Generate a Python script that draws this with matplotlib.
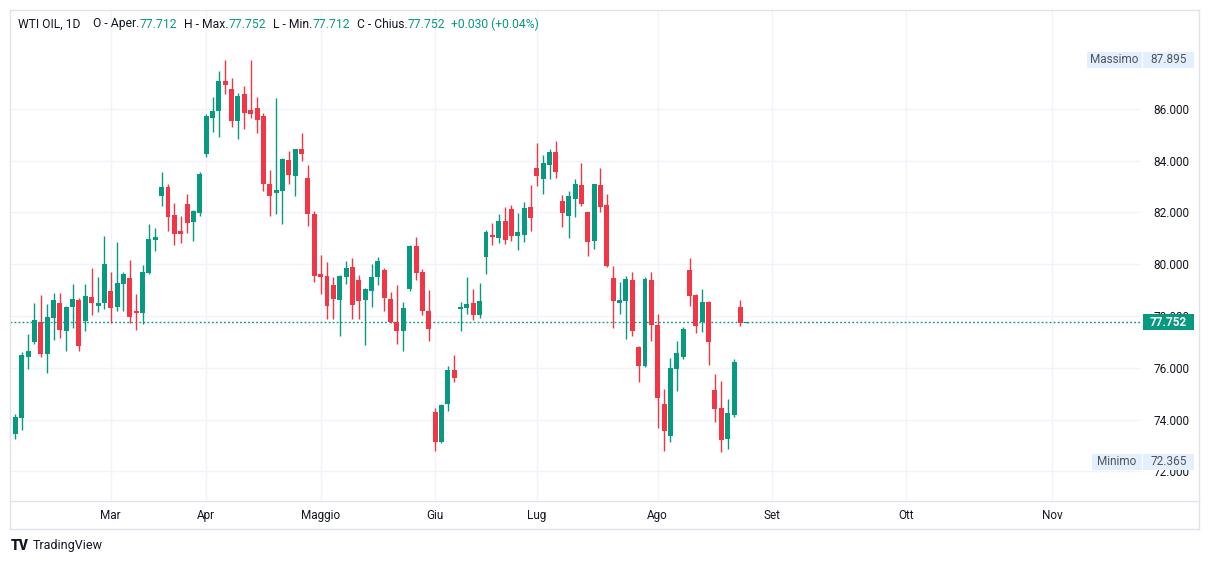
import numpy as np
import matplotlib
matplotlib.use("Agg")
import matplotlib.pyplot as plt
from matplotlib.lines import Line2D
from matplotlib.patches import Rectangle
import matplotlib.transforms as mtransforms

plt.rcParams['font.family'] = ['Roboto', 'DejaVu Sans']

# daily bars (bar index 0 = first visible bar)
opens = [72.76, 73.45, 74.07, 76.41, 76.99, 77.78, 76.53, 77.93, 78.50, 77.42,
         78.34, 78.61, 77.80, 78.73, 78.38, 78.50, 78.96, 78.34, 79.23, 79.46,
         78.19, 78.11, 79.66, 80.93, 82.64, 82.98, 81.90, 81.28, 82.32, 81.64,
         81.98, 84.26, 85.64, 85.91, 87.07, 86.76, 85.53, 86.57, 85.95, 86.03,
         85.72, 83.09, 82.75, 82.82, 84.02, 83.40, 84.44, 83.32, 81.93, 79.62,
         79.54, 79.19, 78.61, 79.50, 79.89, 79.39, 78.61, 78.96, 79.50, 79.77,
         78.65, 77.76, 77.42, 79.04, 80.70, 79.69, 78.19, 74.29, 73.13, 74.60,
         75.91, 78.26, 78.30, 78.50, 78.03, 80.27, 81.12, 81.00, 81.66, 82.13,
         81.08, 81.12, 82.20, 83.71, 83.29, 83.83, 84.33, 82.44, 81.86, 82.51,
         83.05, 82.01, 80.89, 83.05, 82.28, 79.46, 78.50, 78.57, 79.39, 76.80,
         76.07, 79.39, 77.65, 74.60, 73.36, 75.95, 76.41, 79.77, 78.81, 77.76,
         78.53, 75.14, 74.44, 73.25, 74.17, 78.34, 77.712]
highs = [73.50, 74.21, 76.61, 77.30, 78.50, 78.81, 78.46, 78.88, 78.88, 78.38,
         79.23, 78.69, 79.23, 79.85, 79.50, 81.08, 79.69, 80.85, 79.69, 80.16,
         78.84, 79.97, 81.55, 81.39, 83.56, 83.09, 82.36, 81.86, 82.71, 82.09,
         83.56, 85.80, 86.45, 87.46, 87.88, 87.19, 86.61, 86.88, 87.895, 86.45,
         85.83, 83.63, 86.41, 84.10, 84.37, 84.46, 85.06, 83.83, 82.05, 80.35,
         80.08, 79.50, 79.58, 80.12, 80.24, 79.58, 79.08, 80.00, 80.27, 79.85,
         78.92, 79.19, 78.53, 80.74, 81.05, 79.81, 79.00, 74.44, 74.60, 76.07,
         76.49, 78.53, 79.50, 79.04, 79.27, 81.30, 81.59, 81.93, 82.20, 82.28,
         81.97, 82.40, 83.05, 84.68, 84.21, 84.44, 84.75, 82.66, 82.82, 83.29,
         83.90, 82.03, 83.10, 83.71, 82.71, 79.93, 79.31, 79.54, 79.69, 76.84,
         79.50, 79.69, 78.07, 75.18, 76.37, 77.03, 77.57, 80.24, 78.83, 79.04,
         78.57, 75.76, 75.49, 74.79, 76.34, 78.61, 77.752]
lows = [72.70, 73.25, 73.59, 75.95, 76.91, 76.41, 75.80, 77.07, 77.15, 76.64,
        77.53, 76.64, 77.42, 78.03, 78.15, 78.26, 77.73, 78.19, 78.19, 77.73,
        77.45, 77.69, 79.62, 80.51, 82.25, 81.29, 80.75, 80.83, 81.21, 80.90,
        81.87, 84.15, 85.10, 84.91, 86.57, 85.29, 84.83, 85.22, 85.64, 85.06,
        82.82, 81.86, 81.93, 81.55, 83.09, 82.63, 83.98, 81.47, 79.31, 78.84,
        77.88, 77.88, 77.22, 79.23, 77.88, 77.88, 76.87, 78.34, 79.19, 78.19,
        77.74, 76.91, 76.64, 78.96, 79.39, 78.03, 77.03, 72.78, 73.09, 74.33,
        75.45, 77.42, 78.07, 77.84, 77.92, 79.62, 80.74, 80.81, 80.78, 80.89,
        80.54, 80.85, 81.28, 83.01, 82.71, 83.29, 83.32, 81.43, 81.00, 81.83,
        82.24, 80.31, 80.58, 82.01, 79.90, 77.53, 78.07, 77.11, 77.22, 75.45,
        76.03, 77.03, 73.67, 72.78, 73.13, 75.10, 76.34, 78.38, 77.34, 77.38,
        76.10, 73.90, 72.75, 72.86, 74.10, 77.61, 77.712]
closes = [73.47, 74.10, 76.49, 76.64, 77.84, 76.53, 77.96, 78.61, 77.46, 78.34,
          78.65, 76.84, 78.77, 78.50, 78.50, 80.00, 78.30, 79.27, 79.62, 77.96,
          78.11, 79.69, 80.97, 81.05, 82.98, 81.83, 81.17, 81.17, 81.60, 82.05,
          83.48, 85.72, 85.91, 87.07, 86.92, 85.53, 86.49, 85.83, 85.80, 85.56,
          83.09, 82.63, 82.86, 84.06, 83.44, 84.44, 84.25, 81.93, 79.54, 79.50,
          78.38, 78.65, 79.54, 79.85, 78.42, 78.57, 79.04, 79.50, 80.12, 78.69,
          77.76, 77.42, 78.30, 80.70, 79.66, 78.19, 77.49, 73.13, 74.56, 75.91,
          75.60, 78.34, 78.46, 78.03, 78.57, 81.24, 81.05, 81.66, 80.93, 81.08,
          81.24, 82.17, 81.78, 83.40, 83.90, 84.33, 83.56, 81.97, 82.63, 83.09,
          82.32, 80.85, 83.09, 82.20, 79.93, 78.57, 78.61, 79.42, 77.42, 76.07,
          79.42, 77.65, 74.83, 73.55, 75.99, 76.57, 77.49, 78.77, 77.61, 78.53,
          76.99, 74.41, 73.21, 74.25, 76.22, 77.72, 77.752]

month_pos = [16, 31, 49, 67, 83, 102, 120, 141, 164]
month_names = ["Mar", "Apr", "Maggio", "Giu", "Lug", "Ago", "Set", "Ott", "Nov"]
price_ticks = [72, 74, 76, 78, 80, 82, 84, 86]
last_price = 77.752
max_price = 87.895
min_price = 72.365

UP = "#089981"
DOWN = "#f23645"
TXT = "#131722"
BORDER = "#e0e3eb"
GRID = "#f0f3fa"

W, H = 1209, 564
fig = plt.figure(figsize=(W / 100, H / 100), dpi=100)
fig.patch.set_facecolor("white")

# plot area: x 10..1140, y 10..500 (pixels)
ax = fig.add_axes([10 / W, 1 - 500 / H, 1130 / W, 490 / H])
ax.set_facecolor("white")

idx = np.arange(len(opens))
o = np.array(opens)
c = np.array(closes)
cols = [UP if cc >= oo else DOWN for oo, cc in zip(o, c)]
ax.vlines(idx, lows, highs, colors=cols, lw=1.0, zorder=3)
bottoms = np.minimum(o, c)
heights = np.maximum(np.abs(c - o), 0.07)
ax.bar(idx, heights, bottom=bottoms, width=0.78, color=cols, lw=0, zorder=4)

ax.axhline(last_price, color=UP, lw=1.0, ls=(0, (1.3, 1.6)), zorder=2)

ax.set_xlim(0.157, 177.83)
ax.set_ylim(70.892, 89.811)

ax.set_xticks(month_pos)
ax.set_xticklabels(month_names)
ax.yaxis.tick_right()
ax.set_yticks(price_ticks)
ax.set_yticklabels([f"{v:.3f}" for v in price_ticks])
for lab in ax.get_yticklabels():
    lab.set_horizontalalignment("right")
ax.tick_params(axis="y", length=0, pad=35.3, labelsize=8.5, labelcolor=TXT)
ax.tick_params(axis="x", length=0, pad=6.5, labelsize=8.5, labelcolor=TXT)
ax.grid(True, color=GRID, lw=1.0, zorder=0)
ax.set_axisbelow(True)
for s in ax.spines.values():
    s.set_visible(False)

# labels on the price scale
bt = mtransforms.blended_transform_factory(ax.transAxes, ax.transData)
ppu = 490 / (89.811 - 70.892)


def ax_x(px):
    return (px - 10) / 1130


def scale_box(x0, x1, y, face, text, tcolor, bold=False):
    h = 16 / ppu
    ax.add_patch(Rectangle((ax_x(x0), y - h / 2), ax_x(x1) - ax_x(x0), h,
                           transform=bt, facecolor=face, edgecolor="none",
                           clip_on=False, zorder=10))
    ax.text(ax_x((x0 + x1) / 2), y, text, transform=bt, ha="center", va="center",
            fontsize=8.5, color=tcolor, fontweight="bold" if bold else "normal",
            clip_on=False, zorder=11)


scale_box(1143, 1194, last_price, UP, f"{last_price:.3f}", "white", bold=True)
scale_box(1087, 1142, max_price, "#e3effd", "Massimo", "#50535e")
scale_box(1143, 1194, max_price, "#e3effd", f"{max_price:.3f}", "#50535e")
scale_box(1092, 1142, min_price, "#e3effd", "Minimo", "#50535e")
scale_box(1143, 1194, min_price, "#e3effd", f"{min_price:.3f}", "#50535e")


# frame of the widget
def fline(x0, y0, x1, y1):
    fig.add_artist(Line2D([x0 / W, x1 / W], [1 - y0 / H, 1 - y1 / H],
                          color=BORDER, lw=1.0, transform=fig.transFigure))


fline(9.5, 9.5, 1198.5, 9.5)
fline(9.5, 528.5, 1198.5, 528.5)
fline(9.5, 9.5, 9.5, 528.5)
fline(1198.5, 9.5, 1198.5, 528.5)
fline(9.5, 500.5, 1198.5, 500.5)

# legend line at top: pieces chained one after the other
header = [("WTI OIL, 1D", TXT, 12), ("O - Aper.", TXT, 0), ("77.712", UP, 7),
          ("H - Max.", TXT, 0), ("77.752", UP, 7),
          ("L - Min.", TXT, 0), ("77.712", UP, 7),
          ("C - Chius.", TXT, 0), ("77.752", UP, 6),
          ("+0.030 (+0.04%)", UP, 0)]
renderer = fig.canvas.get_renderer()
px = 18.4
for s, col, gap in header:
    t = fig.text(px / W, 1 - 24 / H, s, ha="left", va="center", fontsize=8.7, color=col)
    px += t.get_window_extent(renderer).width + gap

# logo
fig.text(11 / W, 1 - 546 / H, "TV", ha="left", va="center", fontsize=10,
         fontweight="heavy", color=TXT)
fig.text(33 / W, 1 - 546 / H, "TradingView", ha="left", va="center",
         fontsize=9, color=TXT)

fig.savefig("out.png", dpi=100, facecolor="white")
